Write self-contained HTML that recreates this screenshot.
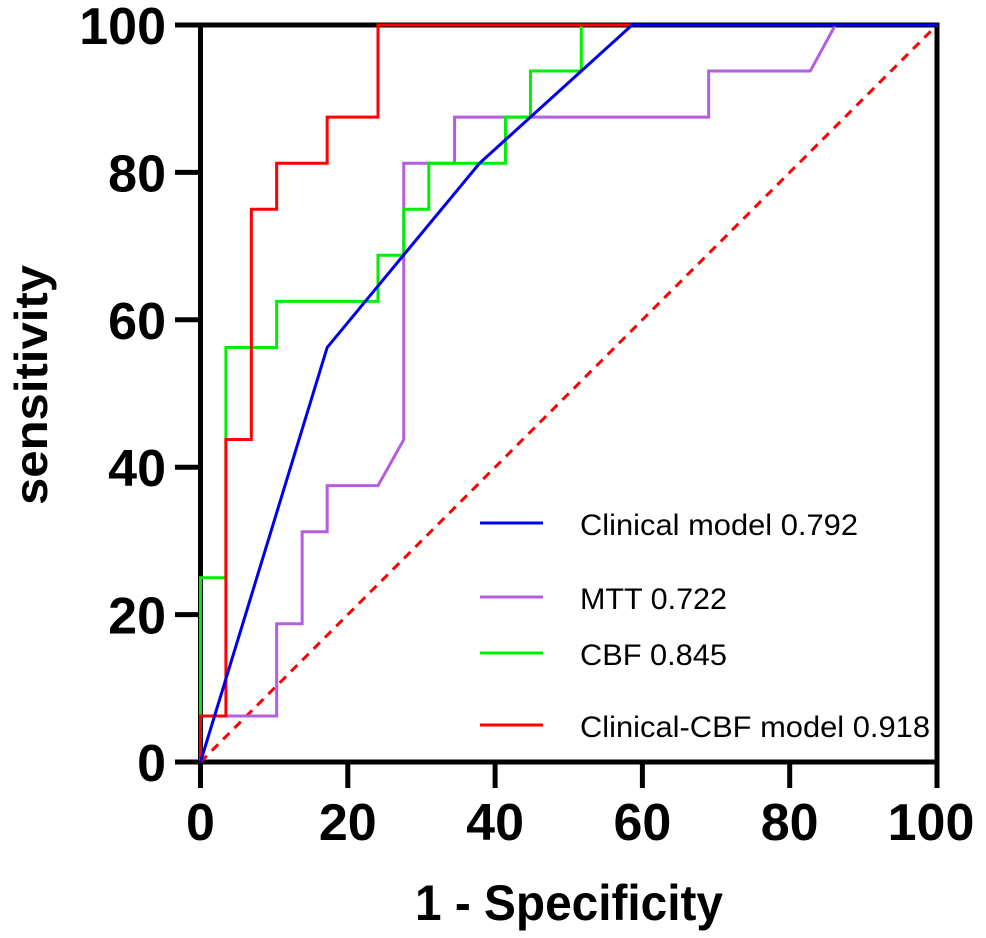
<!DOCTYPE html>
<html><head><meta charset="utf-8"><style>
html,body{margin:0;padding:0;background:#fff;}
svg{display:block;font-family:"Liberation Sans",Arial,sans-serif;}
</style></head><body>
<svg id="chart" width="986" height="938" viewBox="0 0 986 938">
<g id="axes"></g>
<g id="plot"></g>
<text x="569" y="920" font-size="50" font-weight="bold" text-anchor="middle" textLength="308" lengthAdjust="spacingAndGlyphs">1 - Specificity</text>
<text transform="translate(47,385) rotate(-90)" font-size="46" font-weight="bold" text-anchor="middle" textLength="240" lengthAdjust="spacingAndGlyphs">sensitivity</text>
<g id="legend"></g>
</svg>
<script>
const xTicks = [0, 20, 40, 60, 80, 100];
const yTicks = [0, 20, 40, 60, 80, 100];
const seriesNames = ["Clinical model 0.792", "MTT 0.722", "CBF 0.845", "Clinical-CBF model 0.918"];
const seriesColors = ["#0000ee", "#b45de0", "#00ee00", "#ff0000"];
const clinicalX = [0, 17.2, 37.9, 58.6, 100];
const clinicalY = [0, 56.25, 81.25, 100, 100];
const mttX = [0, 0, 10.34, 10.34, 13.8, 13.8, 17.2, 17.2, 24.1, 27.6, 27.6, 34.5, 34.5, 69, 69, 82.8, 86.2, 100];
const mttY = [0, 6.25, 6.25, 18.75, 18.75, 31.25, 31.25, 37.5, 37.5, 43.75, 81.25, 81.25, 87.5, 87.5, 93.75, 93.75, 100, 100];
const cbfX = [0, 0, 3.45, 3.45, 10.34, 10.34, 24.1, 24.1, 27.6, 27.6, 31, 31, 41.4, 41.4, 44.8, 44.8, 51.7, 51.7, 100];
const cbfY = [0, 25, 25, 56.25, 56.25, 62.5, 62.5, 68.75, 68.75, 75, 75, 81.25, 81.25, 87.5, 87.5, 93.75, 93.75, 100, 100];
const combX = [0, 0, 3.45, 3.45, 6.9, 6.9, 10.34, 10.34, 17.2, 17.2, 24.1, 24.1, 100];
const combY = [0, 6.25, 6.25, 43.75, 43.75, 75, 75, 81.25, 81.25, 87.5, 87.5, 100, 100];
const refX = [0, 100];
const refY = [0, 100];

const NS = "http://www.w3.org/2000/svg";
const X0 = 200.5, X1 = 937, Y0 = 762, Y1 = 25;
function sx(v){ return X0 + (X1 - X0) * v / 100; }
function sy(v){ return Y0 - (Y0 - Y1) * v / 100; }
function mk(tag, attrs, parent){
  const e = document.createElementNS(NS, tag);
  for (const k in attrs) e.setAttribute(k, attrs[k]);
  parent.appendChild(e);
  return e;
}
const plot = document.getElementById('plot');
const axes = document.getElementById('axes');
const legend = document.getElementById('legend');

function drawLine(xs, ys, color, name, dash){
  const pts = xs.map((x, i) => sx(x).toFixed(2) + ',' + sy(ys[i]).toFixed(2)).join(' ');
  const p = mk('polyline', {points: pts, fill: 'none', stroke: color, 'stroke-width': 3}, plot);
  if (dash) p.setAttribute('stroke-dasharray', dash);
  
  
}
drawLine(refX, refY, '#ff0000', 'reference-diagonal', '9,7');
drawLine(mttX, mttY, seriesColors[1], 'mtt-curve');
drawLine(cbfX, cbfY, seriesColors[2], 'cbf-curve');
drawLine(combX, combY, seriesColors[3], 'clinical-cbf-curve');
drawLine(clinicalX, clinicalY, seriesColors[0], 'clinical-model-curve');

const fr = mk('rect', {x: X0, y: Y1, width: X1 - X0, height: Y0 - Y1, fill: 'none', stroke: '#000', 'stroke-width': 5}, axes);



xTicks.forEach(t => {
  const l = mk('line', {x1: sx(t), x2: sx(t), y1: Y0, y2: 788, stroke: '#000', 'stroke-width': 5}, axes);
  
  
  const tx = mk('text', {x: t === 100 ? sx(t) - 6 : sx(t), y: 840, 'font-size': 52, 'font-weight': 'bold', 'text-anchor': 'middle'}, axes);
  tx.textContent = t;
  
  
});
yTicks.forEach(t => {
  const l = mk('line', {x1: 175, x2: X0, y1: sy(t), y2: sy(t), stroke: '#000', 'stroke-width': 5}, axes);
  
  
  const tx = mk('text', {x: 166, y: sy(t) + 19, 'font-size': 52, 'font-weight': 'bold', 'text-anchor': 'end'}, axes);
  tx.textContent = t;
  
  
});

const legY = [523, 597, 653, 725];
const legW = [278, 147, 147, 350];
seriesNames.forEach((n, i) => {
  const l = mk('line', {x1: 480, x2: 543, y1: legY[i], y2: legY[i], stroke: seriesColors[i], 'stroke-width': 3}, legend);
  
  
  const t = mk('text', {x: 580, y: legY[i] + 12, 'font-size': 30, textLength: legW[i], lengthAdjust: 'spacingAndGlyphs'}, legend);
  t.textContent = n;
  
  
});
</script>
</body></html>
